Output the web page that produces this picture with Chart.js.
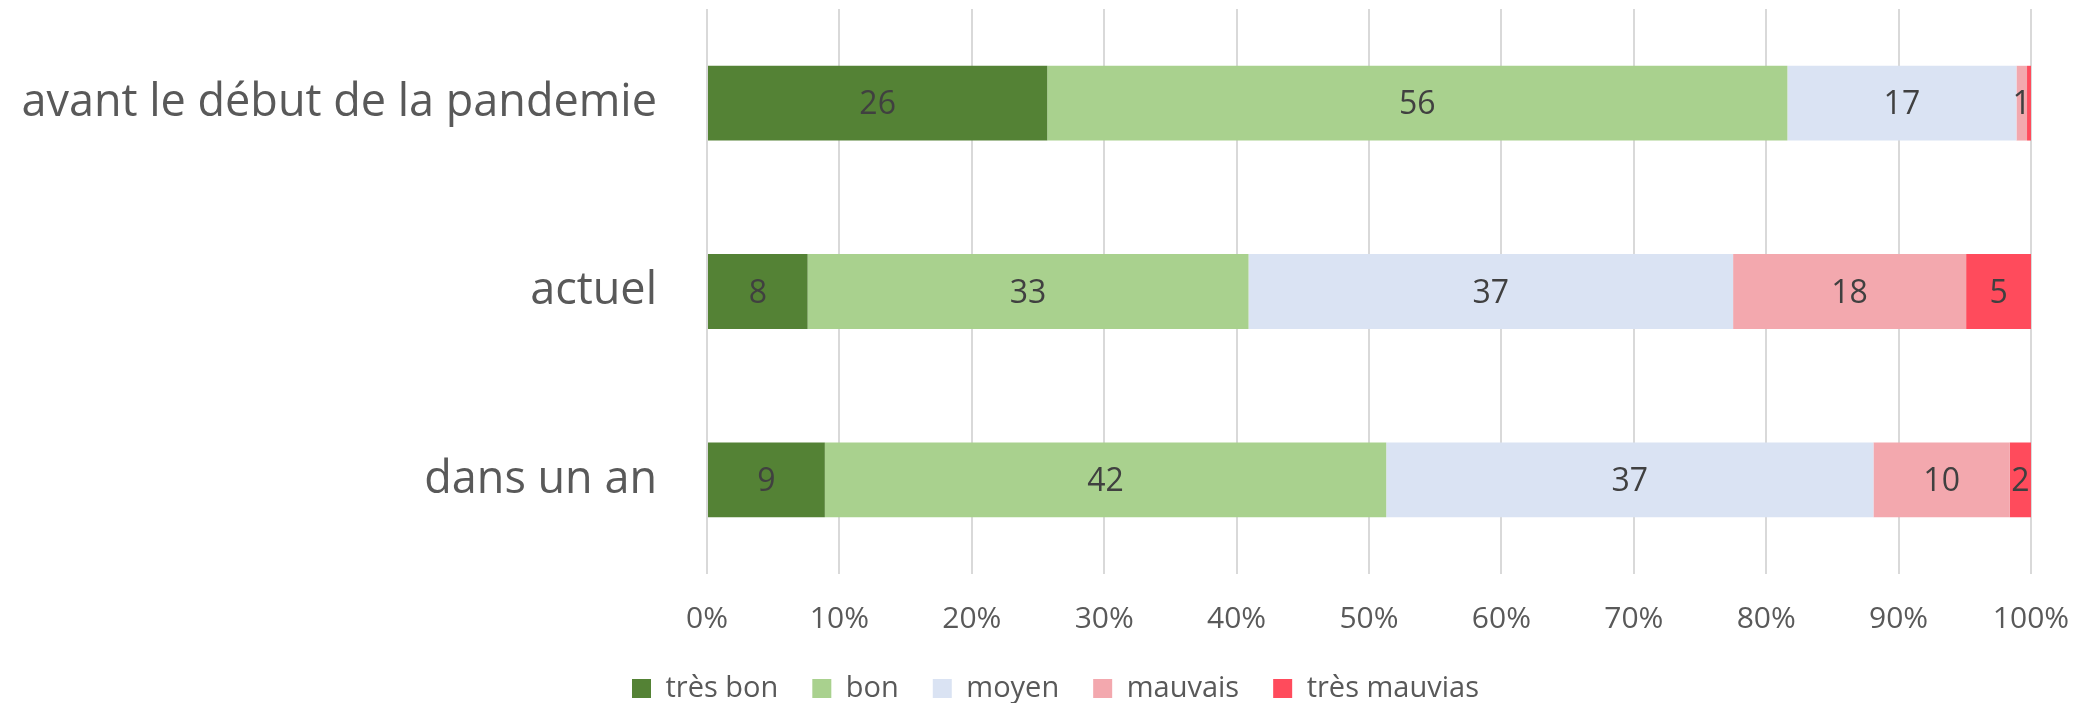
<!DOCTYPE html>
<html lang="fr">
  <head>
    <meta charset="UTF-8" />
    <title>Santé perçue</title>
    <script src="https://cdn.jsdelivr.net/npm/chart.js@4/dist/chart.umd.min.js"></script>
    <style>
      body {
        margin: 0;
        background: #fff;
      }
      #wrap {
        width: 2080px;
        height: 703px;
      }
    </style>
  </head>
  <body>
    <div id="wrap"><canvas id="stateChart" width="2080" height="703"></canvas></div>

    <script>
      const periods = ["avant le début de la pandemie", "actuel", "dans un an"];
      const seriesNames = ["très bon", "bon", "moyen", "mauvais", "très mauvias"];
      const colors = ["#548235", "#A9D18E", "#DAE3F3", "#F3A8AE", "#FF4B5C"];

      // share (%) per period
      const tresBon = [25.7, 7.6, 8.9];
      const bon = [55.9, 33.3, 42.4];
      const moyen = [17.3, 36.6, 36.8];
      const mauvais = [0.8, 17.6, 10.3];
      const tresMauvais = [0.3, 4.9, 1.6];

      const xTicks = [0, 10, 20, 30, 40, 50, 60, 70, 80, 90, 100];

      const font = "'Open Sans', 'Noto Sans', sans-serif";

      // numbers written in the middle of each segment
      const valueLabels = {
        id: "valueLabels",
        afterDatasetsDraw(chart) {
          const ctx = chart.ctx;
          ctx.save();
          ctx.font = "32px " + font;
          ctx.fillStyle = "#404040";
          ctx.textAlign = "center";
          ctx.textBaseline = "middle";
          chart.data.datasets.forEach((ds, i) => {
            chart.getDatasetMeta(i).data.forEach((bar, j) => {
              const v = Math.round(ds.data[j]);
              if (v < 1) return;
              const c = bar.getCenterPoint();
              ctx.fillText(v, c.x, c.y + 2);
            });
          });
          ctx.restore();
        },
      };

      // move the legend under the middle of the whole picture, a bit lower
      const legendNudge = {
        id: "legendNudge",
        afterLayout(chart) {
          const l = chart.legend;
          l.top += 10;
          l.bottom += 10;
          l.left += 40;
          l.right += 40;
        },
      };

      const seriesData = [tresBon, bon, moyen, mauvais, tresMauvais];

      const data = {
        labels: periods,
        datasets: seriesNames.map((name, i) => ({
          label: name,
          data: seriesData[i],
          backgroundColor: colors[i],
          borderWidth: 0,
          barPercentage: 0.397,
          categoryPercentage: 1,
        })),
      };

      const config = {
        type: "bar",
        data: data,
        options: {
          indexAxis: "y",
          responsive: false,
          animation: false,
          layout: { padding: { top: 9, left: 0, right: 49, bottom: 0 } },
          scales: {
            x: {
              stacked: true,
              min: 0,
              max: 100,
              afterBuildTicks: (s) => {
                s.ticks = xTicks.map((v) => ({ value: v }));
              },
              afterFit: (s) => {
                s.height = 56;
                s.paddingLeft = 0;
                s.paddingRight = 0;
              },
              grid: { color: "#d9d9d9", lineWidth: 2, drawTicks: false },
              border: { display: false },
              ticks: {
                padding: 27,
                color: "#595959",
                font: { family: font, size: 30 },
                callback: (v) => v + "%",
              },
            },
            y: {
              stacked: true,
              afterFit: (s) => {
                s.width = 707;
                s.paddingTop = 0;
                s.paddingBottom = 0;
              },
              grid: { display: false, drawTicks: false },
              border: { display: false },
              ticks: {
                padding: 50,
                color: "#595959",
                font: { family: font, size: 45 },
              },
            },
          },
          plugins: {
            tooltip: { enabled: false },
            legend: {
              position: "bottom",
              labels: {
                boxWidth: 19,
                boxHeight: 19,
                padding: 34,
                color: "#595959",
                font: { family: font, size: 29 },
              },
            },
          },
        },
        plugins: [valueLabels, legendNudge],
      };

      const stateChart = new Chart(document.getElementById("stateChart"), config);
    </script>
  </body>
</html>
